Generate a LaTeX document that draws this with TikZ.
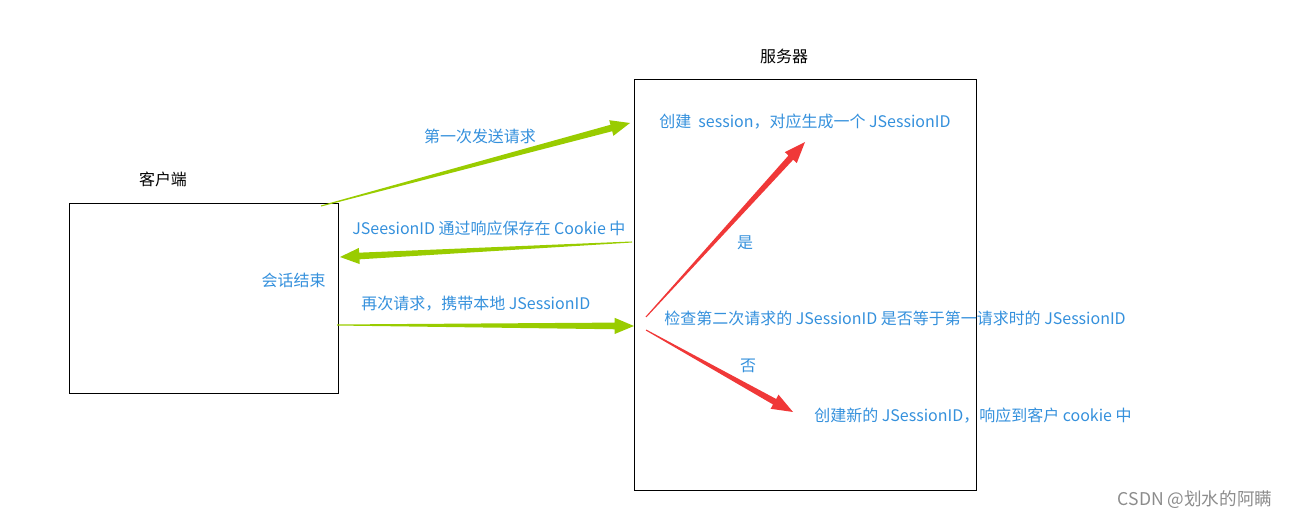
\documentclass[tikz,border=0pt]{standalone}
\usepackage{fontspec}
\setmainfont{Noto Sans CJK SC}
\usetikzlibrary{calc}
\definecolor{txtblue}{RGB}{52,144,220}
\definecolor{arrgreen}{RGB}{153,204,0}
\definecolor{arrred}{RGB}{240,56,56}

% tapered arrow: colour, from, to, neck name, shaft half width, head half width, head length
\newcommand{\taper}[7]{%
  \coordinate (#4) at ($(#3)!#7!(#2)$);
  \fill[#1] ($(#2)!0.3pt!90:(#3)$) -- ($(#4)!#5!90:(#3)$) -- ($(#4)!#6!90:(#3)$) -- (#3)
     -- ($(#4)!#6!-90:(#3)$) -- ($(#4)!#5!-90:(#3)$) -- ($(#2)!0.3pt!-90:(#3)$) -- cycle;
}

\begin{document}
\begin{tikzpicture}[x=0.02cm, y=-0.02cm, font=\fontsize{9.1}{11}\selectfont,
    lbl/.style={text=txtblue, inner sep=0pt},
    title/.style={text=black, inner sep=0pt}]
    \useasboundingbox (0,0) rectangle (1295,520);
    % boxes
    \draw (69,203) rectangle (338,393);
    \draw (634,79) rectangle (976,490);
    \node[title] (client) at (163,179) {客户端};
    \node[title] (server) at (784,56) {服务器};
    \node[lbl, anchor=east] (end) at (326,280) {会话结束};

    % green arrows
    \coordinate (g1a) at (321,206);
    \coordinate (g1b) at (630,123);
    \coordinate (g2a) at (632,242);
    \coordinate (g2b) at (340,257);
    \coordinate (g3a) at (337,325);
    \coordinate (g3b) at (634,326);
    \taper{arrgreen}{g1a}{g1b}{g1n}{1.9pt}{4.6pt}{11pt}
    \taper{arrgreen}{g2a}{g2b}{g2n}{1.9pt}{4.6pt}{11pt}
    \taper{arrgreen}{g3a}{g3b}{g3n}{1.9pt}{4.6pt}{11pt}
    \node[lbl] (first) at (480,136) {第一次发送请求};
    \node[lbl, anchor=west] (save) at (352,228) {JSeesionID 通过响应保存在 Cookie 中};
    \node[lbl, anchor=west] (again) at (361,304) {再次请求，携带本地 JSessionID};

    % server side
    \node[lbl, anchor=west] (create) at (659,122) {创建\ \ session，对应生成一个 JSessionID};
    \node[lbl, anchor=west] (check) at (664,318) {检查第二次请求的 JSessionID 是否等于第一请求时的 JSessionID};
    \node[lbl, anchor=west] (new) at (814,416) {创建新的 JSessionID，响应到客户 cookie 中};
    \coordinate (r1a) at (646,317);
    \coordinate (r1b) at (805,142);
    \coordinate (r2a) at (646,330);
    \coordinate (r2b) at (793,412);
    \taper{arrred}{r1a}{r1b}{r1n}{1.8pt}{4.6pt}{12pt}
    \taper{arrred}{r2a}{r2b}{r2n}{1.8pt}{4.6pt}{12pt}
    \node[lbl] (yes) at (745,243) {是};
    \node[lbl] (no) at (748,366) {否};

    \node[text=black!45, inner sep=0pt, font=\fontsize{10}{12}\selectfont] (mark) at (1195,500) {CSDN @划水的阿瞒};
\end{tikzpicture}
\end{document}
